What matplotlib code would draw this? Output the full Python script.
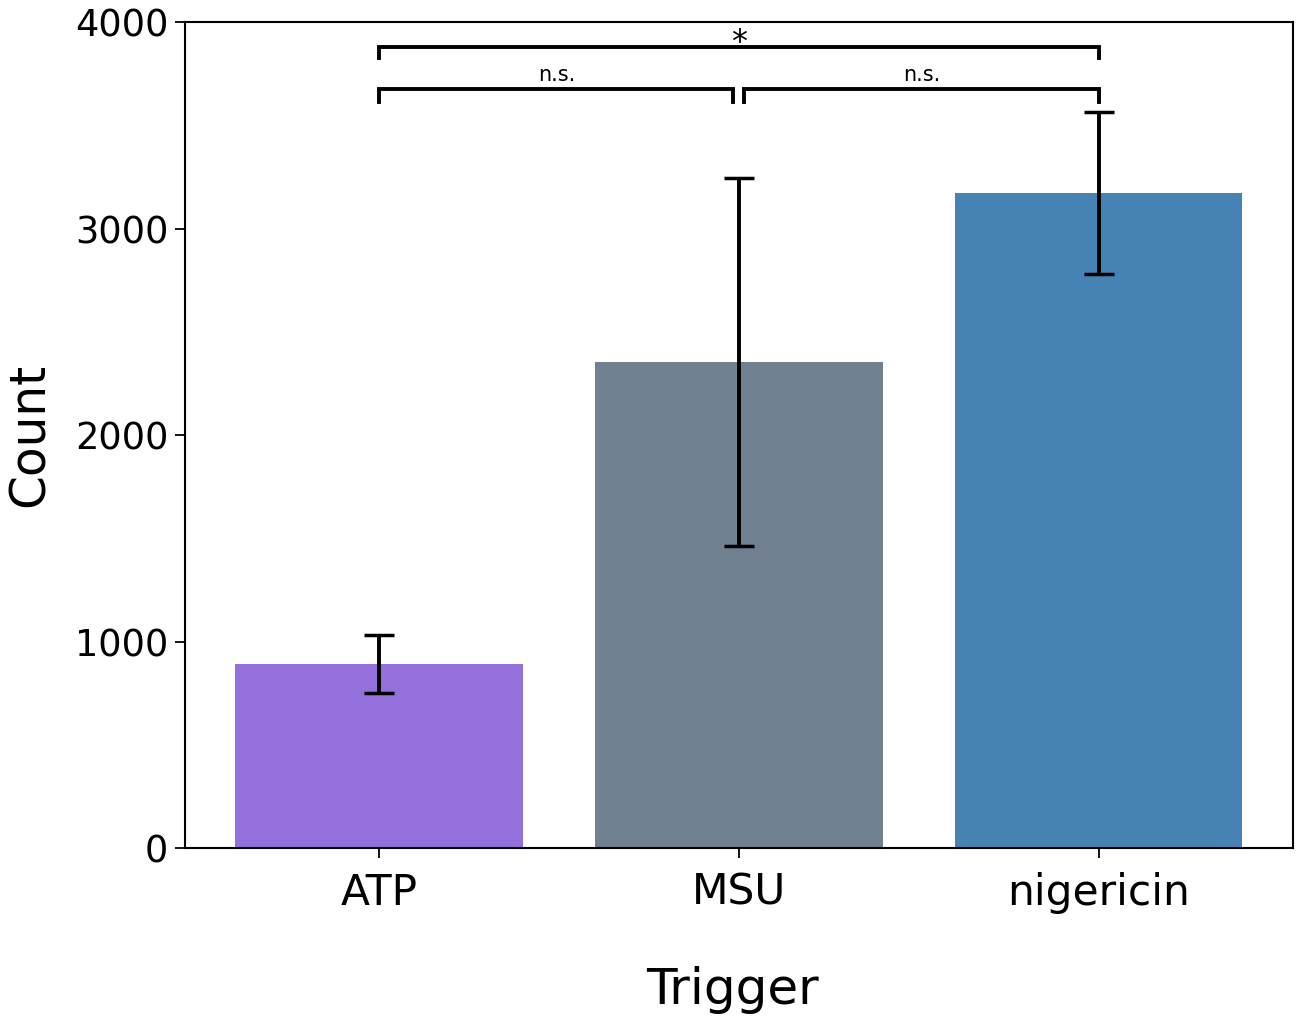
import matplotlib
matplotlib.use("Agg")
import matplotlib.pyplot as plt

triggers = ["ATP", "MSU", "nigericin"]
counts = [890, 2355, 3170]
errors = [140, 890, 392]
colors = ["mediumpurple", "slategray", "steelblue"]

# significance brackets: (left index, right index, label, y, tick drop)
brackets = [
    (0, 2, "*", 3880, 55),
    (0, 0.985, "n.s.", 3675, 60),
    (1.015, 2, "n.s.", 3675, 60),
]

fig = plt.figure(figsize=(12.98, 10.23), dpi=100)
ax = fig.add_axes([0.1425, 0.171, 0.8535, 0.8075])

x = range(len(triggers))
ax.bar(x, counts, width=0.8, color=colors)
ax.errorbar(x, counts, yerr=errors, fmt="none", ecolor="black",
            elinewidth=2.8, capsize=11, capthick=2.5)

for x1, x2, label, y, drop in brackets:
    ax.plot([x1, x1, x2, x2], [y - drop, y, y, y - drop], color="black", lw=2.8,
            solid_joinstyle="miter")
    if label == "*":
        ax.text((x1 + x2) / 2, y - 55, label, ha="center", va="bottom", fontsize=23)
    else:
        ax.text((x1 + x2) / 2, y + 20, label, ha="center", va="bottom", fontsize=15)

ax.set_ylim(0, 4000)
ax.set_xticks(list(x))
ax.set_xticklabels(triggers, fontsize=30.5)
ax.set_yticks([0, 1000, 2000, 3000, 4000])
ax.tick_params(axis="y", labelsize=26.5, length=7, width=1.3, pad=5)
ax.tick_params(axis="x", length=7, width=1.3, pad=10)
for s in ax.spines.values():
    s.set_linewidth(1.5)

ax.set_ylabel("Count", fontsize=35, labelpad=15)
ax.set_xlabel("Trigger", fontsize=36)
ax.xaxis.set_label_coords(0.494, -0.143)

fig.savefig("out.png", dpi=100)
